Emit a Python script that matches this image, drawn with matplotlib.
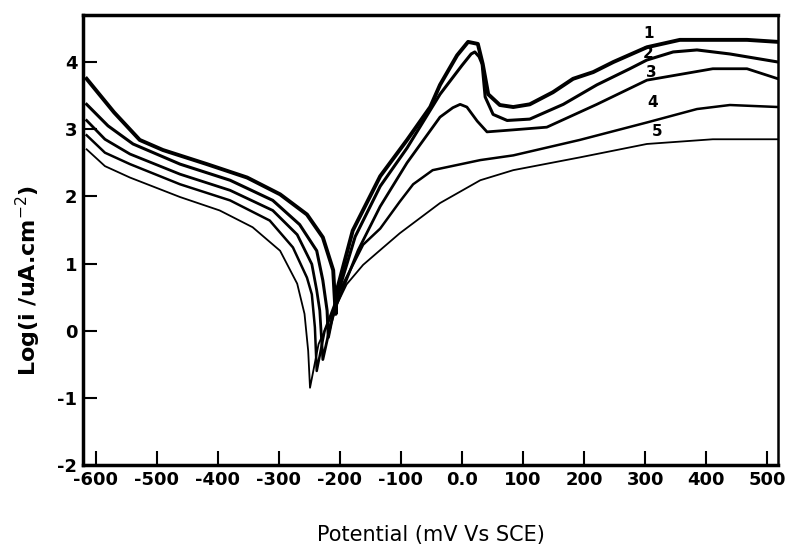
import matplotlib
matplotlib.use('Agg')
import matplotlib.pyplot as plt

plt.rcParams['axes.unicode_minus'] = False

# Potential (mV vs SCE) and log current density for the five curves
pot_1 = [-615, -570, -528, -490, -418, -352, -298, -254, -228, -211, -207,
         -205, -179, -134, -90, -52, -36, -8, 10, 26, 34, 43, 62, 84, 111,
         149, 182, 215, 248, 303, 357, 411, 467, 518]
log_1 = [3.75, 3.25, 2.84, 2.69, 2.48, 2.28, 2.03, 1.73, 1.39, 0.90, 0.25,
         0.60, 1.49, 2.30, 2.84, 3.33, 3.66, 4.10, 4.30, 4.27, 3.97, 3.52, 3.36, 3.33, 3.37,
         3.55, 3.75, 3.85, 4.00, 4.22, 4.33, 4.33, 4.33, 4.30]

pot_2 = [-615, -580, -539, -462, -380, -310, -266, -238, -228, -221, -219,
         -210, -205, -175, -134, -90, -36, 0, 15, 21, 28, 33, 38, 51, 74, 111,
         166, 221, 275, 303, 346, 385, 439, 518]
log_2 = [3.37, 3.05, 2.78, 2.48, 2.24, 1.94, 1.58, 1.19, 0.75, 0.30, -0.10,
         0.30, 0.50, 1.40, 2.15, 2.72, 3.52, 3.95, 4.12, 4.15, 4.08, 3.97, 3.48, 3.22, 3.13, 3.15,
         3.37, 3.66, 3.90, 4.03, 4.15, 4.18, 4.12, 4.00]

pot_3 = [-615, -585, -544, -462, -380, -310, -270, -246, -238, -233, -228,
         -215, -205, -170, -134, -90, -36, -15, -3, 8, 25, 41, 84, 139,
         221, 303, 411, 467, 518]
log_3 = [3.13, 2.85, 2.63, 2.33, 2.09, 1.79, 1.43, 0.99, 0.60, 0.30, -0.43,
         0.10, 0.40, 1.20, 1.85, 2.50, 3.18, 3.32, 3.37, 3.33, 3.12, 2.96, 2.99, 3.03,
         3.37, 3.73, 3.90, 3.90, 3.75]

pot_4 = [-615, -585, -544, -462, -380, -315, -277, -254, -246, -241, -238,
         -225, -200, -162, -134, -102, -80, -48, 30, 84, 193, 303, 385, 439, 518]
log_4 = [2.91, 2.65, 2.48, 2.18, 1.94, 1.64, 1.24, 0.79, 0.54, 0.05, -0.60,
         0.00, 0.60, 1.28, 1.52, 1.92, 2.18, 2.39, 2.54, 2.61, 2.84, 3.10, 3.30, 3.36, 3.33]

pot_5 = [-615, -585, -544, -462, -397, -343, -298, -270, -258, -252, -249,
         -235, -215, -189, -162, -134, -102, -80, -36, 30, 84, 193, 303, 411, 518]
log_5 = [2.70, 2.45, 2.28, 1.99, 1.79, 1.54, 1.19, 0.70, 0.25, -0.30, -0.85,
         -0.20, 0.20, 0.69, 0.98, 1.20, 1.45, 1.60, 1.90, 2.24, 2.39, 2.58, 2.78, 2.85, 2.85]

curve_labels = ['1', '2', '3', '4', '5']
label_pot = [305, 305, 310, 313, 320]
label_log = [4.42, 4.12, 3.85, 3.40, 2.96]

x_ticks = [-600, -500, -400, -300, -200, -100, 0, 100, 200, 300, 400, 500]
x_tick_labels = ['-600', '-500', '-400', '-300', '-200', '-100', '0.0',
                 '100', '200', '300', '400', '500']
y_ticks = [-2, -1, 0, 1, 2, 3, 4]

fig = plt.figure(figsize=(7.94, 5.52), dpi=100)
ax = fig.add_axes([0.1045, 0.1576, 0.8755, 0.8152])

curves = [(pot_1, log_1, 2.8), (pot_2, log_2, 2.2), (pot_3, log_3, 2.0),
          (pot_4, log_4, 1.8), (pot_5, log_5, 1.3)]
for pot, val, lw in curves:
    ax.plot(pot, val, color='black', linewidth=lw, solid_joinstyle='round')

for txt, px, py in zip(curve_labels, label_pot, label_log):
    ax.text(px, py, txt, fontsize=11, fontweight='bold', ha='center', va='center')

ax.set_xlim(-621, 518)
ax.set_ylim(-2, 4.7)
ax.set_xticks(x_ticks)
ax.set_xticklabels(x_tick_labels)
ax.set_yticks(y_ticks)
ax.tick_params(direction='in', length=10, width=1.5, labelsize=13, pad=4)
for lbl in ax.get_xticklabels() + ax.get_yticklabels():
    lbl.set_fontweight('bold')

for side in ['left', 'bottom', 'top']:
    ax.spines[side].set_linewidth(2.5)
ax.spines['right'].set_linewidth(1.8)

ax.set_xlabel('Potential (mV Vs SCE)', fontsize=15, labelpad=26)
ax.set_ylabel('Log(i /uA.cm$^{-2}$)', fontsize=16, fontweight='bold')
ax.yaxis.set_label_coords(-0.058, 0.41)

fig.savefig('out.png', dpi=100)
